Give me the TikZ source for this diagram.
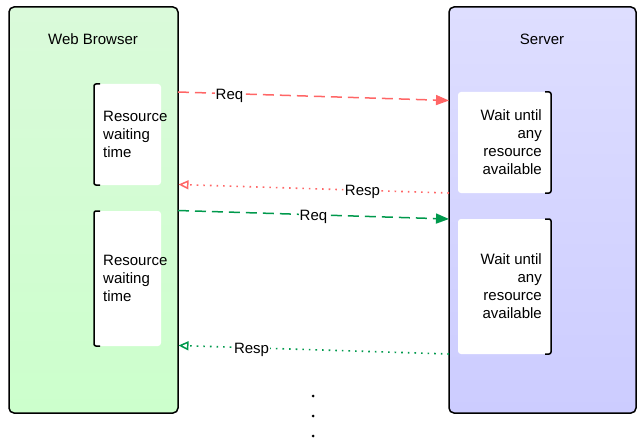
\documentclass[tikz,border=0pt]{standalone}
\usepackage{fontspec}
\setmainfont{Liberation Sans}
\usetikzlibrary{arrows.meta}
\definecolor{reqred}{RGB}{255,102,102}
\definecolor{reqgreen}{RGB}{0,153,76}
\definecolor{bgtop}{RGB}{218,250,218}
\definecolor{bgbot}{RGB}{204,255,204}
\definecolor{sgtop}{RGB}{222,222,255}
\definecolor{sgbot}{RGB}{204,204,255}
\begin{document}
\begin{tikzpicture}[x=1pt,y=-1pt,
  font=\fontsize{15}{18}\selectfont,
  panel/.style={draw=black, line width=1.5pt, rounded corners=5pt, inner sep=0pt, outer sep=0pt, anchor=north west},
  wbox/.style={fill=white, draw=none, rounded corners=3pt, inner sep=0pt, outer sep=0pt, anchor=north west},
  brk/.style={draw=black, line width=1.5pt, rounded corners=2pt},
  txt/.style={inner sep=0pt},
  lbl/.style={fill=white, inner sep=1pt, text=black, yshift=-2pt},
  reqarrow/.style={line width=1.5pt, dash pattern=on 11pt off 6pt, -{Triangle[length=13pt,width=10pt]}},
  resparrow/.style={line width=1.6pt, dash pattern=on 1.6pt off 5pt, -{Triangle[open,length=10pt,width=9pt,line width=1.5pt]}}
]
\useasboundingbox (0,0) rectangle (640,441);

% panels
\node[panel, top color=bgtop, bottom color=bgbot, minimum width=169pt, minimum height=406pt] (browser) at (9,7) {};
\node[panel, top color=sgtop, bottom color=sgbot, minimum width=187pt, minimum height=406pt] (server) at (449,7) {};
\node[txt] (btitle) at (93,39) {Web Browser};
\node[txt] (stitle) at (542,39) {Server};

% browser waiting boxes
\node[wbox, minimum width=67pt, minimum height=101pt] (bw1) at (94,84) {};
\node[wbox, minimum width=67pt, minimum height=135pt] (bw2) at (94,211) {};
\draw[brk] ([xshift=6pt]bw1.north west) -- (bw1.north west) -- (bw1.south west) -- ([xshift=6pt]bw1.south west);
\draw[brk] ([xshift=6pt]bw2.north west) -- (bw2.north west) -- (bw2.south west) -- ([xshift=6pt]bw2.south west);
\node[txt, anchor=west, align=left] (bt1) at ([xshift=9pt]bw1.west) {Resource\\waiting\\time};
\node[txt, anchor=west, align=left] (bt2) at ([xshift=9pt]bw2.west) {Resource\\waiting\\time};

% server waiting boxes
\node[wbox, minimum width=93pt, minimum height=101pt] (sw1) at (458,92) {};
\node[wbox, minimum width=93pt, minimum height=135pt] (sw2) at (458,219) {};
\draw[brk] ([xshift=-6pt]sw1.north east) -- (sw1.north east) -- (sw1.south east) -- ([xshift=-6pt]sw1.south east);
\draw[brk] ([xshift=-6pt]sw2.north east) -- (sw2.north east) -- (sw2.south east) -- ([xshift=-6pt]sw2.south east);
\node[txt, anchor=east, align=right] (st1) at ([xshift=-9pt]sw1.east) {Wait until\\any\\resource\\available};
\node[txt, anchor=east, align=right] (st2) at ([xshift=-9pt]sw2.east) {Wait until\\any\\resource\\available};

% connector end points
\coordinate (rq1a) at (178,92);
\coordinate (rq1b) at (449,100.5);
\coordinate (rs1a) at (449,193);
\coordinate (rs1b) at (178.5,184.5);
\coordinate (rq2a) at (178,210.5);
\coordinate (rq2b) at (449,219);
\coordinate (rs2a) at (449,354);
\coordinate (rs2b) at (178.5,345.5);

\draw[reqarrow, reqred] (rq1a) -- node[lbl, pos=0.19] {Req} (rq1b);
\draw[resparrow, reqred] (rs1a) -- node[lbl, pos=0.32] {Resp} (rs1b);
\draw[reqarrow, reqgreen] (rq2a) -- node[lbl, pos=0.5] {Req} (rq2b);
\draw[resparrow, reqgreen] (rs2a) -- node[lbl, pos=0.73] {Resp} (rs2b);

% continuation dots
\fill (313,396) circle (1.5pt);
\fill (313,416) circle (1.5pt);
\fill (313,436) circle (1.5pt);
\end{tikzpicture}
\end{document}
